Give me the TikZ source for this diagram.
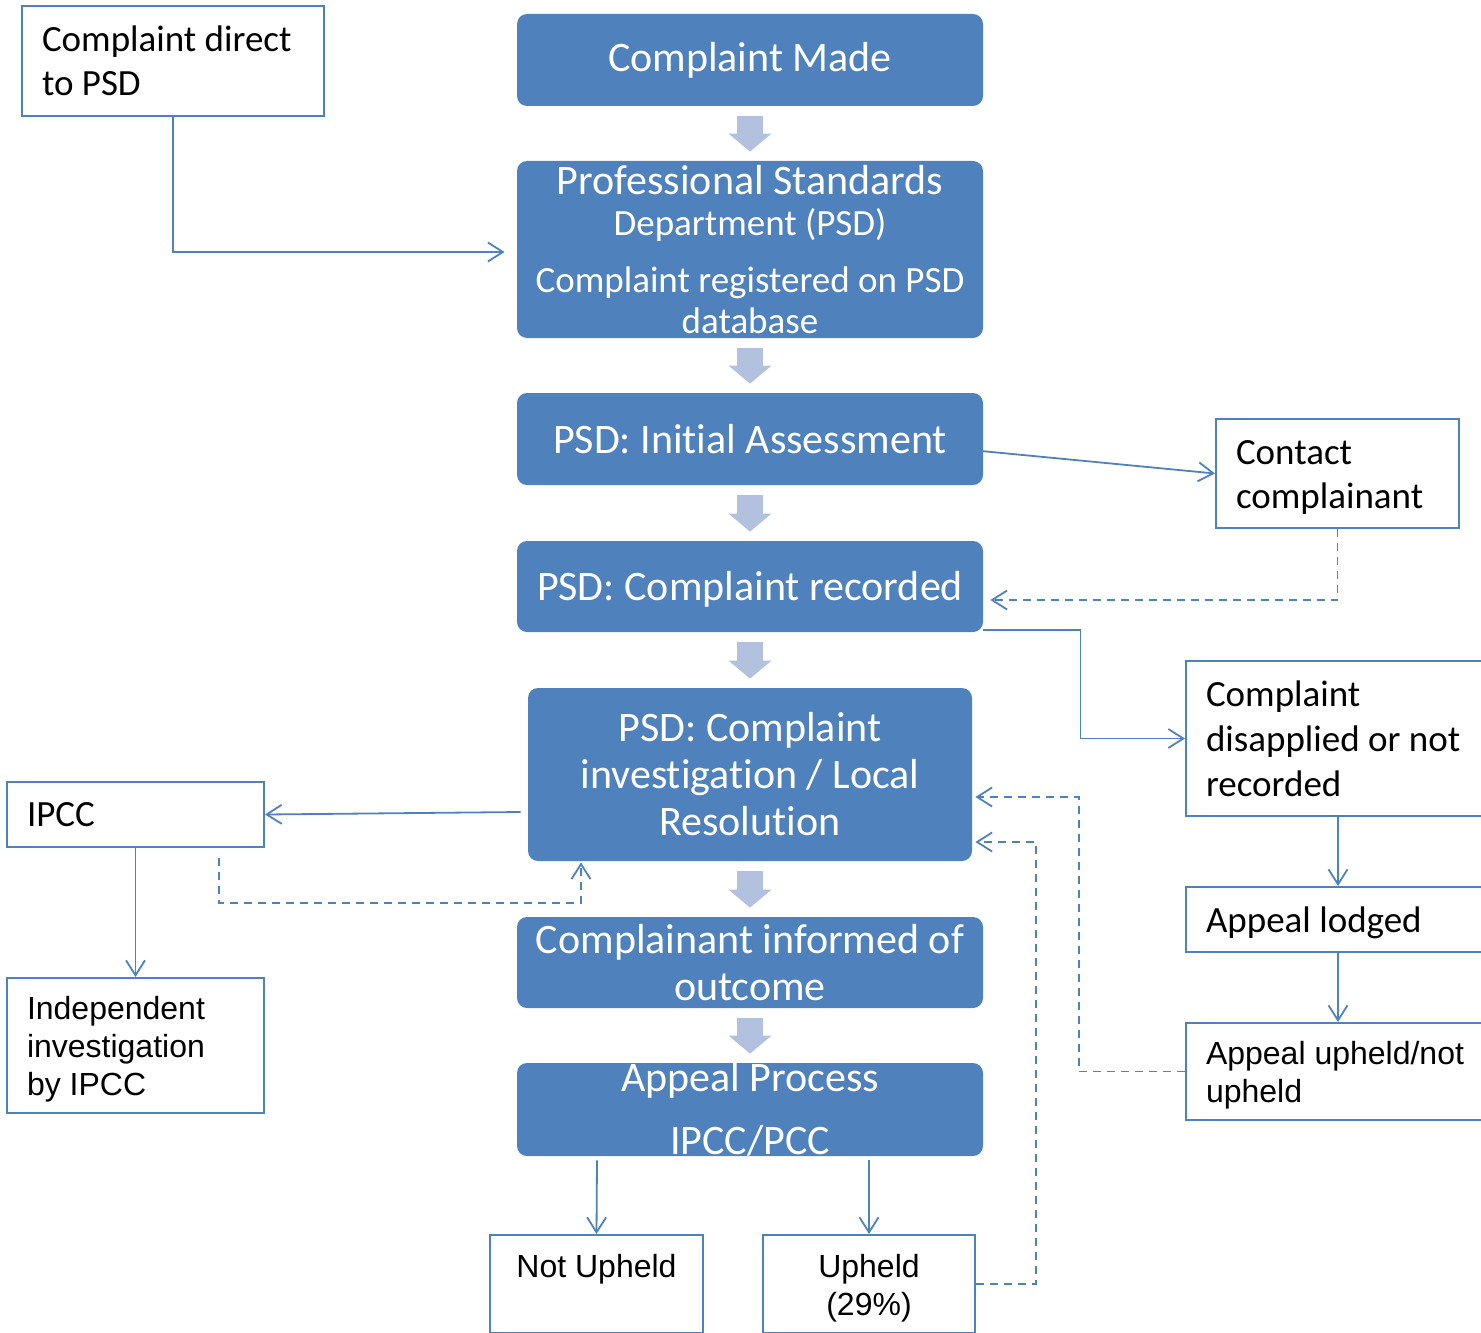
\documentclass[tikz,border=0pt]{standalone}
\usepackage{fontspec}
\setmainfont[Ligatures=NoCommon]{Carlito}
\newfontfamily\arialf{Liberation Sans}
\usetikzlibrary{arrows.meta,calc}
\definecolor{boxblue}{RGB}{79,129,189}
\definecolor{arrowblue}{RGB}{178,194,222}
\newcommand\smallerfont{\fontsize{18.5}{20.5}\selectfont}
\newcommand\cstrut{\rule{0pt}{16pt}}
\newcommand\astrut{\rule{0pt}{15.6pt}}
\begin{document}
\begin{tikzpicture}[x=0.5pt,y=-0.5pt,
 fillbox/.style={fill=boxblue, rounded corners=5pt, text=white, inner sep=0pt, align=center, font=\fontsize{21}{23.5}\selectfont, minimum width=233pt},
 outbox/.style={draw=boxblue, line width=1pt, inner xsep=10pt, inner ysep=0pt, align=flush left, font=\fontsize{18.5}{22.25}\selectfont},
 arbox/.style={outbox, font=\arialf\fontsize{16}{19}\selectfont},
 conn/.style={draw=boxblue, line width=0.9pt, -{Straight Barb[length=7.5pt,width=9.5pt]}},
 dconn/.style={conn, dash pattern=on 4pt off 3pt},
 bigarrow/.style={draw=arrowblue, line width=13.3pt, -{Triangle[length=9pt,width=21.5pt,line width=0pt]}, shorten <=5pt, shorten >=4.5pt},
]
\useasboundingbox (0,0) rectangle (1481,1332);

% main column
\node (made) [fillbox, minimum height=46pt] at (750,60) {Complaint Made};
\node (psd) [fillbox, minimum height=88.5pt, font=\fontsize{21}{20.5}\selectfont] at (750,249.5)
  {Professional Standards\\{\smallerfont Department (PSD)}\\[8pt]{\smallerfont Complaint registered on PSD}\\{\smallerfont database}};
\node (ia) [fillbox, minimum height=46pt] at (750,439) {PSD: Initial Assessment};
\node (rec) [fillbox, minimum height=45.5pt] at (750,586.5) {\rule{0pt}{17pt}PSD: Complaint recorded};
\node (inv) [fillbox, minimum width=222pt, minimum height=86.5pt] at (750,774.5) {PSD: Complaint\\investigation / Local\\Resolution};
\node (inf) [fillbox, minimum height=45.5pt] at (750,962.5) {Complainant informed of\\outcome};
\node (appeal) [fillbox, minimum height=46.5pt] at (750,1109.5) {};
\node (appealtxt) [fillbox, fill=none] at (appeal.center) {Appeal Process\\[8pt]IPCC/PCC};

\draw[bigarrow] (made.south) -- (psd.north);
\draw[bigarrow] (psd.south) -- (ia.north);
\draw[bigarrow] (ia.south) -- (rec.north);
\draw[bigarrow] (rec.south) -- (inv.north);
\draw[bigarrow] (inv.south) -- (inf.north);
\draw[bigarrow] (inf.south) -- (appeal.north);

% outline boxes
\node (cd) [outbox, text width=131pt, minimum height=55pt] at (173,61) {Complaint direct\\to PSD};
\node (contact) [outbox, text width=101.5pt, minimum height=54.5pt] at (1337.5,473.5) {\cstrut Contact\\complainant};
\node (dis) [outbox, text width=132pt, minimum height=77.5pt, font=\fontsize{18.5}{22.5}\selectfont] at (1338,738.5) {Complaint\\\mbox{disapplied or not}\\recorded};
\node (lodged) [outbox, text width=132pt, minimum height=32.5pt] at (1338,919.5) {\cstrut Appeal lodged};
\node (aun) [arbox, text width=132pt, minimum height=48.5pt] at (1338,1071.5) {\astrut\mbox{Appeal upheld/not}\\upheld};
\node (ipcc) [outbox, text width=108.5pt, minimum height=32.5pt] at (135.5,814.5) {IPCC};
\node (indep) [arbox, text width=108.5pt, minimum height=67.5pt] at (135.5,1045.5) {\astrut Independent\\investigation\\by IPCC};
\node (notup) [arbox, align=center, minimum width=106.5pt, minimum height=49pt] at (596.5,1284) {\astrut Not Upheld\\\phantom{(29\%)}};
\node (up) [arbox, align=center, minimum width=106pt, minimum height=49pt] at (869,1284) {\astrut Upheld\\(29\%)};

% connectors
\draw[conn] (cd.south) |- ($(psd.west)+(-12,2.5)$);
\draw[conn] ($(ia.east)+(-23,10)$) -- (contact.west);
\draw[dconn] (contact.south) |- ($(rec.east)+(7,13.5)$);
\draw[conn] ($(rec.east)+(0,43.5)$) -- ++(97,0) |- (dis.west);
\draw[conn] (dis.south) -- (lodged.north);
\draw[conn] (lodged.south) -- (aun.north);
\draw[dconn] (aun.west) -- ++(-106,0) |- ($(inv.east)+(3,22.5)$);
\draw[dconn] (up.east) -- ++(60,0) |- ($(inv.east)+(3,67.5)$);
\draw[conn] ($(inv.west)+(-7,37.5)$) -- (ipcc.east);
\draw[conn] (ipcc.south) -- (indep.north);
\draw[dconn] ($(ipcc.south east)+(-46,10)$) -- ++(0,45) -| ($(inv.south)+(-169,1)$);
\draw[conn] ($(appeal.south)+(-153,4)$) -- (notup.north);
\draw[conn] ($(appeal.south)+(119,4)$) -- (up.north);
\end{tikzpicture}
\end{document}
